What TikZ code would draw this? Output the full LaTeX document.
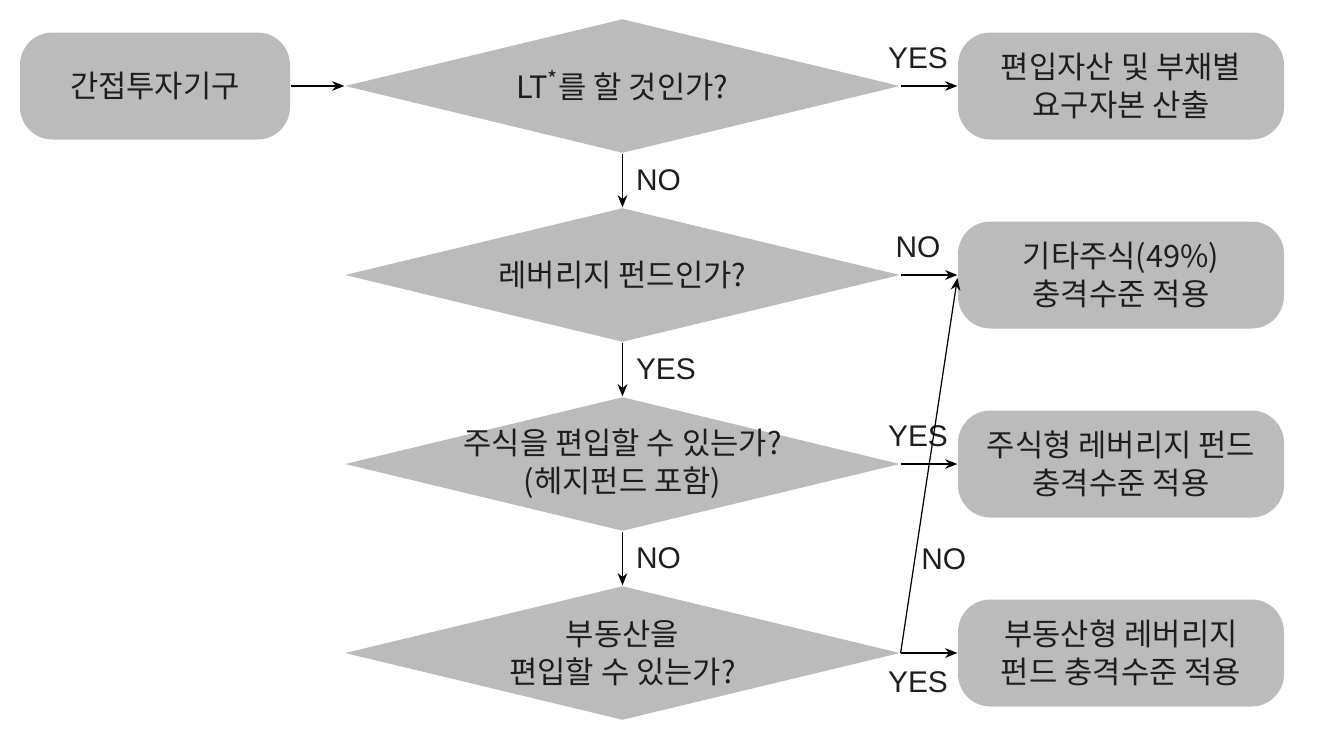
\documentclass[tikz,border=0pt]{standalone}
\usepackage{fontspec}
\setmainfont{Noto Sans CJK KR}
\newfontfamily\labelfont{Liberation Sans}
\usetikzlibrary{shapes.geometric,arrows.meta,positioning}
\definecolor{boxgray}{RGB}{187,187,187}
\definecolor{ink}{RGB}{30,30,30}

\begin{document}
\begin{tikzpicture}[node distance={3.78cm}, font=\fontsize{17.5}{21.5}\selectfont, text=ink,
		>={Stealth[length=7pt,width=5.5pt]}, line width=0.7pt,
		main/.style = {fill=boxgray, rounded corners=0.65cm, align=center, minimum width=6.52cm, minimum height=2.14cm},
		ask/.style = {diamond, fill=boxgray, aspect=4.14, inner sep=-3pt, minimum width=11.1cm, minimum height=2.68cm, align=center},
		yn/.style = {font=\labelfont\fontsize{17}{19}\selectfont}]
		\useasboundingbox (0,0) rectangle (26.34,-14.92);
		\node[main, minimum width=5.4cm] (s) at (3.1,-1.72) {간접투자기구};
		\node[ask] (d1) [right of=s, node distance=9.35cm] {LT\textsuperscript{*}를 할 것인가?};
		\node[ask] (d2) [below of=d1] {레버리지 펀드인가?};
		\node[ask] (d3) [below of=d2] {주식을 편입할 수 있는가?\\(헤지펀드 포함)};
		\node[ask] (d4) [below of=d3] {부동산을\\편입할 수 있는가?};
		\node[main] (r1) [right of=d1, node distance=9.97cm] {편입자산 및 부채별\\요구자본 산출};
		\node[main] (r2) [right of=d2, node distance=9.97cm] {기타주식(49\%)\\충격수준 적용};
		\node[main] (r3) [right of=d3, node distance=9.97cm] {주식형 레버리지 펀드\\충격수준 적용};
		\node[main] (r4) [right of=d4, node distance=9.97cm] {부동산형 레버리지\\펀드 충격수준 적용};
		\draw[->] (s) -- (d1);
		\draw[->] (d1) -- node[yn, above=6pt, xshift=-0.22cm] {YES} (r1);
		\draw[->] (d1) -- node[yn, right=4pt] {NO} (d2);
		\draw[->] (d2) -- node[yn, above=6pt, xshift=-0.22cm] {NO} (r2);
		\draw[->] (d2) -- node[yn, right=4pt] {YES} (d3);
		\draw[->] (d3) -- node[yn, above=6pt, xshift=-0.22cm] {YES} (r3);
		\draw[->] (d3) -- node[yn, right=4pt] {NO} (d4);
		\draw[->] (d4) -- node[yn, below=7pt, xshift=-0.22cm] {YES} (r4);
		\draw[->] (d4.east) -- node[yn, pos=0.25, right] {NO} ([yshift=-0.06cm]r2.west);
	\end{tikzpicture}
\end{document}
